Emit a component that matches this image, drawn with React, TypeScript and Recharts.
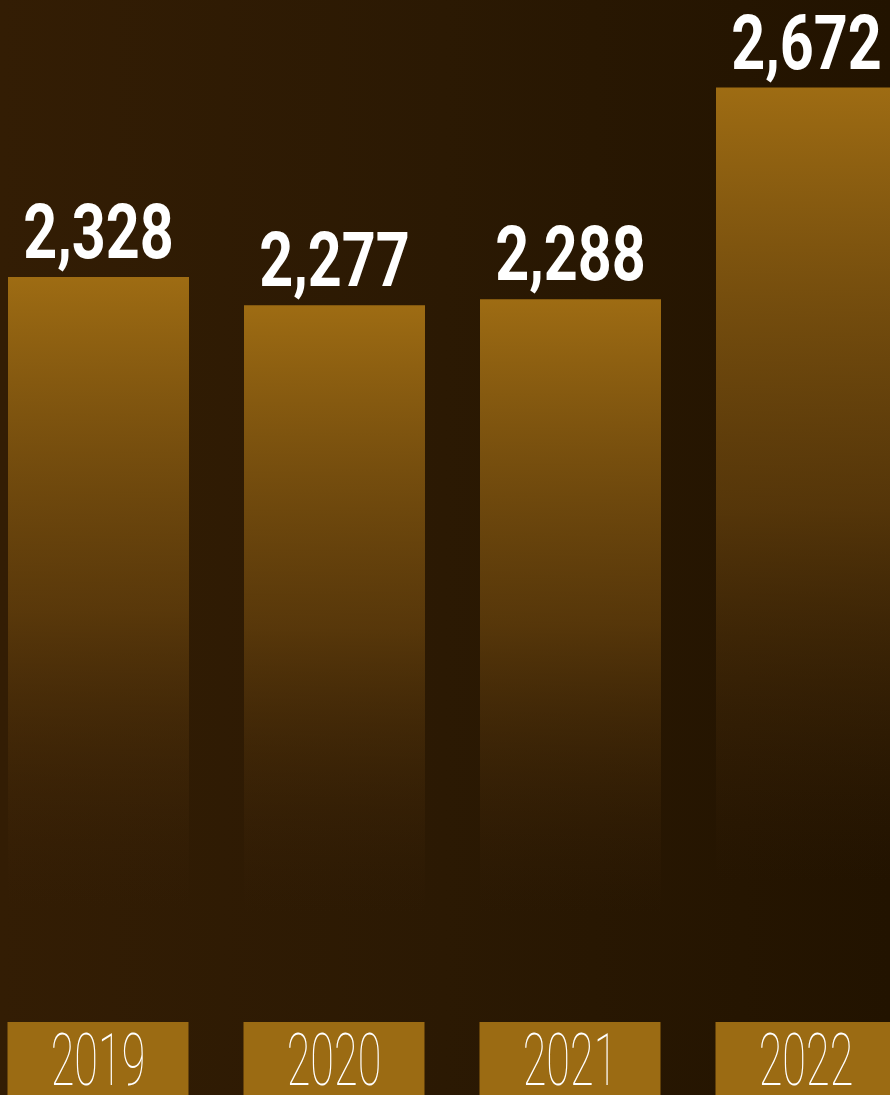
import React from 'react'
import { BarChart, Bar, XAxis, YAxis, LabelList } from 'recharts'

const years = ['2019', '2020', '2021', '2022']
const values = [2328, 2277, 2288, 2672]
const valueLabels = ['2,328', '2,277', '2,288', '2,672']

const data = years.map((year, i) => ({ year, value: values[i], label: valueLabels[i] }))

const GOLD = '#9b6b13'

function YearTick(props: any) {
  const { x, y, payload } = props
  return (
    <g>
      <rect x={x - 90.5} y={y} width={181} height={80} fill={GOLD} />
      <text
        x={0}
        y={0}
        transform={`translate(${x}, ${y + 63}) scale(0.6, 1)`}
        textAnchor="middle"
        fill="#ffffff"
        fontFamily="Roboto"
        fontWeight={100}
        fontSize={72}
      >
        {payload.value}
      </text>
    </g>
  )
}

function ValueLabel(props: any) {
  const { x, y, width, value } = props
  return (
    <text
      x={0}
      y={0}
      transform={`translate(${x + width / 2}, ${y - 19}) scale(0.78, 1)`}
      textAnchor="middle"
      fill="#ffffff"
      fontFamily="Roboto"
      fontWeight={700}
      fontSize={76}
    >
      {value}
    </text>
  )
}

export default function App() {
  return (
    <div
      style={{
        position: 'fixed',
        top: 0,
        left: 0,
        width: 890,
        height: 1095,
        overflow: 'hidden',
        background: 'linear-gradient(90deg, #331d04 0%, #2b1903 50%, #221300 100%)',
      }}
    >
      <div style={{ position: 'absolute', left: -20, top: 0 }}>
        <BarChart
          width={944}
          height={1095}
          data={data}
          margin={{ top: 0, right: 0, bottom: 0, left: 0 }}
        >
          <defs>
            <linearGradient id="barFade" x1="0" y1="0" x2="0" y2="1">
              <stop offset="0%" stopColor="#9e6c13" stopOpacity={1} />
              <stop offset="45%" stopColor="#6a440d" stopOpacity={0.7} />
              <stop offset="85%" stopColor="#3a220a" stopOpacity={0} />
            </linearGradient>
          </defs>
          <XAxis
            dataKey="year"
            axisLine={false}
            tickLine={false}
            tickSize={0}
            tickMargin={0}
            height={73}
            interval={0}
            tick={<YearTick />}
          />
          <YAxis hide domain={[976, 2831]} allowDataOverflow />
          <Bar dataKey="value" barSize={181} fill="url(#barFade)" isAnimationActive={false}>
            <LabelList dataKey="label" content={<ValueLabel />} />
          </Bar>
        </BarChart>
      </div>
    </div>
  )
}
